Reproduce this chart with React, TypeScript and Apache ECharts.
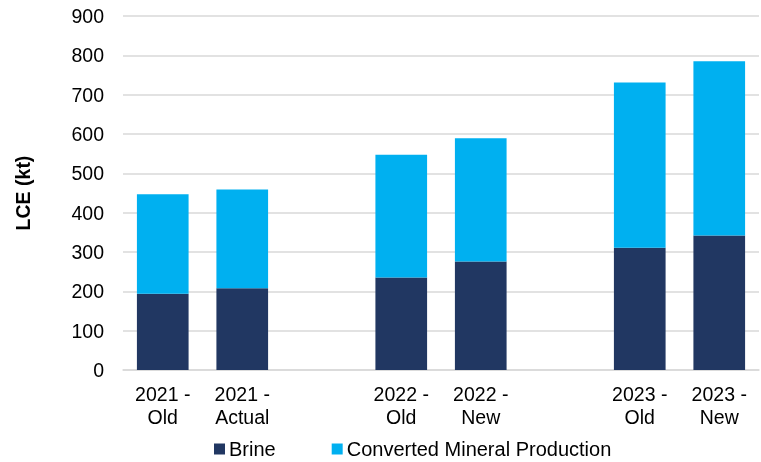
import React, { useEffect, useRef } from "react";
import * as echarts from "echarts";

const categories = ["2021 -\nOld", "2021 -\nActual", "", "2022 -\nOld", "2022 -\nNew", "", "2023 -\nOld", "2023 -\nNew"];
const brine = [194, 208, null, 235, 276, null, 311, 342];
const converted = [253, 251, null, 312, 313, null, 420, 443];
const yTicks = { min: 0, max: 900, interval: 100 };

const FONT = "'Liberation Sans', Arial, sans-serif";

export default function App() {
  const ref = useRef<HTMLDivElement>(null);
  useEffect(() => {
    if (!ref.current) return;
    const chart = echarts.init(ref.current, null, { renderer: "svg" });
    chart.setOption({
      animation: false,
      textStyle: { fontFamily: FONT },
      grid: { left: 123, right: 2, top: 16, bottom: 92, containLabel: false },
      legend: {
        left: 209,
        top: 434,
        itemWidth: 11,
        itemHeight: 11,
        itemGap: 56,
        icon: "rect",
        textStyle: { fontSize: 20, color: "#000", fontFamily: FONT, padding: [0, 0, 0, -1] },
        data: ["Brine", "Converted Mineral Production"],
      },
      xAxis: {
        type: "category",
        data: categories,
        axisTick: { show: false },
        axisLine: { lineStyle: { color: "#d9d9d9", width: 1.5 } },
        axisLabel: { fontSize: 19.5, color: "#000", lineHeight: 23, margin: 12, interval: 0, fontFamily: FONT },
      },
      yAxis: {
        type: "value",
        min: yTicks.min,
        max: yTicks.max,
        interval: yTicks.interval,
        name: "LCE (kt)",
        nameLocation: "middle",
        nameGap: 90,
        nameTextStyle: { fontSize: 19.5, fontWeight: "bold", color: "#000", fontFamily: FONT },
        axisLabel: { fontSize: 19.5, color: "#000", margin: 19, fontFamily: FONT },
        splitLine: { lineStyle: { color: "#d9d9d9", width: 1.5 } },
        axisLine: { show: false },
        axisTick: { show: false },
      },
      series: [
        { name: "Brine", type: "bar", stack: "t", data: brine, barWidth: "65%", itemStyle: { color: "#213762" } },
        { name: "Converted Mineral Production", type: "bar", stack: "t", data: converted, barWidth: "65%", itemStyle: { color: "#00b0f0" } },
      ],
    });
    return () => chart.dispose();
  }, []);
  return <div ref={ref} style={{ position: "fixed", left: 0, top: 0, width: 761, height: 462 }} />;
}
